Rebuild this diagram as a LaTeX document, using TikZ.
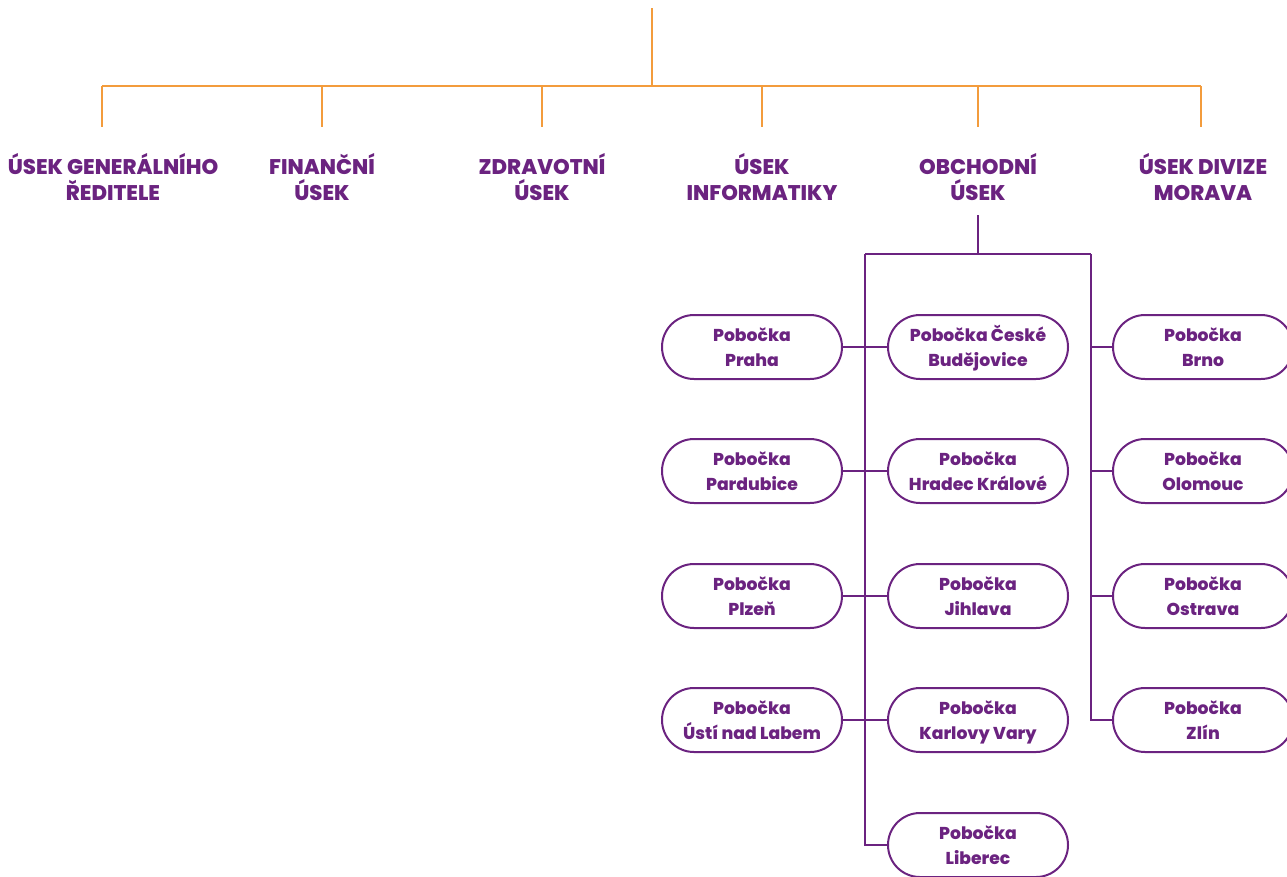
\documentclass[tikz,border=0pt]{standalone}
\usepackage{fontspec}
\setmainfont{Poppins}[BoldFont=* Bold]
\newfontfamily\headfont{Poppins ExtraBold}
\usetikzlibrary{shapes.misc}
\definecolor{org}{RGB}{243,156,60}
\definecolor{pur}{RGB}{107,35,128}
\tikzset{
  orgline/.style={draw=org, line width=1.4pt},
  purline/.style={draw=pur, line width=1.4pt},
  head/.style={text=pur, align=center, font=\fontsize{21.2}{26}\headfont, inner sep=0pt},
  pill/.style={rounded rectangle, draw=pur, line width=2pt, text=pur, align=center,
    minimum width=180pt, minimum height=64pt, inner sep=0pt,
    font=\fontsize{17.2}{24.5}\headfont, text height=38pt, text depth=0pt}
}
\begin{document}
\begin{tikzpicture}[x=1pt,y=-1pt]
\useasboundingbox (0,0) rectangle (1287,876);
% orange tree
\coordinate (root) at (652,8);
\coordinate (bus) at (652,86);
\foreach \i/\x in {1/102,2/322,3/542,4/762,5/978,6/1201}{
  \coordinate (b\i) at (\x,86);
  \coordinate (t\i) at (\x,127);
}
\draw[orgline] (root) -- (bus);
\draw[orgline] (b1) -- (b6);
\foreach \i in {1,...,6}{\draw[orgline] (b\i) -- (t\i);}
% headers
\node[head] (h1) at (113,177) {ÚSEK GENERÁLNÍHO\\ŘEDITELE};
\node[head] (h2) at (322,177) {FINANČNÍ\\ÚSEK};
\node[head] (h3) at (542,177) {ZDRAVOTNÍ\\ÚSEK};
\node[head] (h4) at (762,177) {ÚSEK\\INFORMATIKY};
\node[head] (h5) at (978,177) {OBCHODNÍ\\ÚSEK};
\node[head] (h6) at (1203,177) {ÚSEK DIVIZE\\MORAVA};
% pills
\node[pill] (praha) at (752,347) {Pobočka\\Praha};
\node[pill] (pardubice) at (752,471) {Pobočka\\Pardubice};
\node[pill] (plzen) at (752,596) {Pobočka\\Plzeň};
\node[pill] (usti) at (752,720) {Pobočka\\Ústí nad Labem};
\node[pill] (cb) at (978,347) {Pobočka České\\Budějovice};
\node[pill] (hk) at (978,471) {Pobočka\\Hradec Králové};
\node[pill] (jihlava) at (978,596) {Pobočka\\Jihlava};
\node[pill] (kv) at (978,720) {Pobočka\\Karlovy Vary};
\node[pill] (liberec) at (978,845) {Pobočka\\Liberec};
\node[pill] (brno) at (1203,347) {Pobočka\\Brno};
\node[pill] (olomouc) at (1203,471) {Pobočka\\Olomouc};
\node[pill] (ostrava) at (1203,596) {Pobočka\\Ostrava};
\node[pill] (zlin) at (1203,720) {Pobočka\\Zlín};
% purple connectors
\coordinate (ob) at (978,215);
\coordinate (oj) at (978,254);
\coordinate (L) at (865,254);
\coordinate (R) at (1091,254);
\draw[purline] (ob) -- (oj);
\draw[purline] (L) -- (R);
\draw[purline] (L) |- (liberec.west);
\draw[purline] (R) |- (zlin.west);
\draw[purline] (praha.east) -- (cb.west);
\draw[purline] (pardubice.east) -- (hk.west);
\draw[purline] (plzen.east) -- (jihlava.west);
\draw[purline] (usti.east) -- (kv.west);
\draw[purline] (brno.west -| R) -- (brno.west);
\draw[purline] (olomouc.west -| R) -- (olomouc.west);
\draw[purline] (ostrava.west -| R) -- (ostrava.west);
\end{tikzpicture}
\end{document}
